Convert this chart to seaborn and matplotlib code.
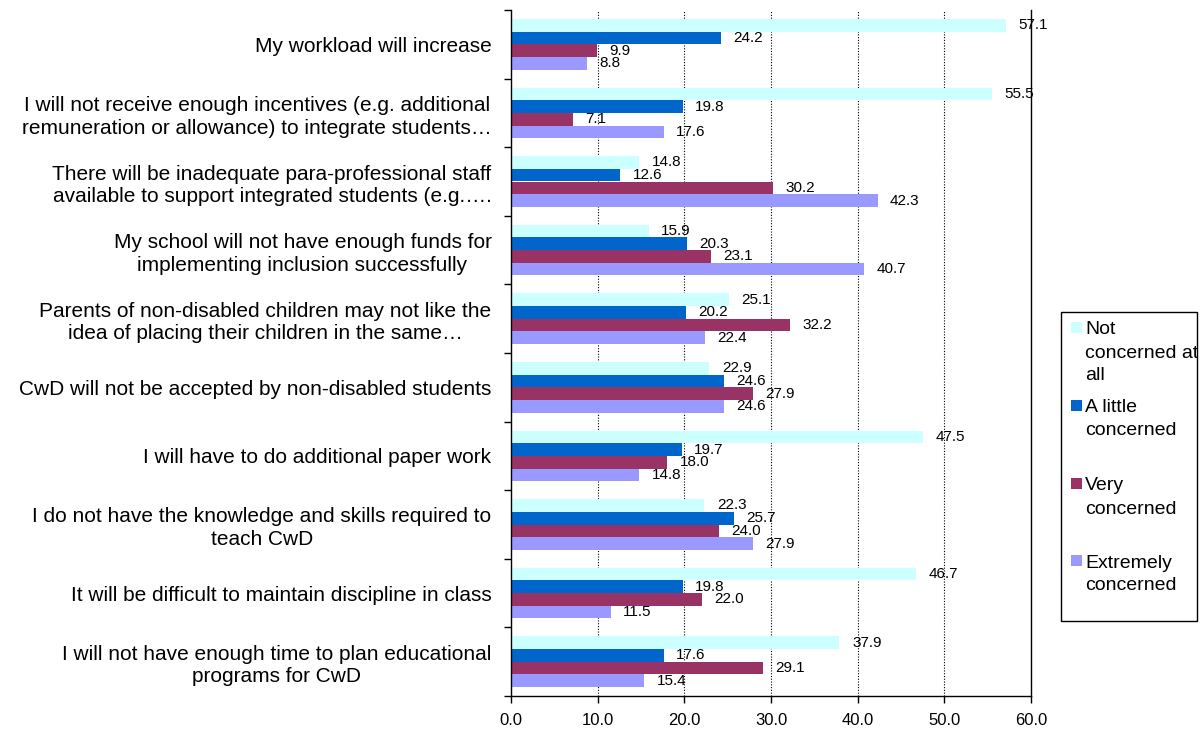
import matplotlib
matplotlib.use("Agg")
import matplotlib.pyplot as plt
import seaborn as sns
import pandas as pd
import numpy as np
from matplotlib.patches import Rectangle
from matplotlib.ticker import FixedLocator

categories = [
    "My workload will increase",
    "I will not receive enough incentives (e.g. additional\nremuneration or allowance) to integrate students…",
    "There will be inadequate para-professional staff\navailable to support integrated students (e.g.….",
    "My school will not have enough funds for\nimplementing inclusion successfully",
    "Parents of non-disabled children may not like the\nidea of placing their children in the same…",
    "CwD will not be accepted by non-disabled students",
    "I will have to do additional paper work",
    "I do not have the knowledge and skills required to\nteach CwD",
    "It will be difficult to maintain discipline in class",
    "I will not have enough time to plan educational\nprograms for CwD",
]
series = ["Not concerned at all", "A little concerned", "Very concerned", "Extremely concerned"]
legend_labels = ["Not\nconcerned at\nall", "A little\nconcerned", "Very\nconcerned", "Extremely\nconcerned"]
not_concerned = [57.1, 55.5, 14.8, 15.9, 25.1, 22.9, 47.5, 22.3, 46.7, 37.9]
a_little = [24.2, 19.8, 12.6, 20.3, 20.2, 24.6, 19.7, 25.7, 19.8, 17.6]
very = [9.9, 7.1, 30.2, 23.1, 32.2, 27.9, 18.0, 24.0, 22.0, 29.1]
extremely = [8.8, 17.6, 42.3, 40.7, 22.4, 24.6, 14.8, 27.9, 11.5, 15.4]
x_ticks = [0, 10, 20, 30, 40, 50, 60]
colors = ["#CCFFFF", "#0066CC", "#993366", "#9999FF"]

sns.set_theme(style="white")
plt.rcParams['font.family'] = ['Liberation Sans', 'DejaVu Sans']

rows = []
for s, vals in zip(series, [not_concerned, a_little, very, extremely]):
    for c, v in zip(categories, vals):
        rows.append({"category": c, "series": s, "value": v})
df = pd.DataFrame(rows)

W, H = 1203, 731
fig = plt.figure(figsize=(W / 100, H / 100), dpi=100)
fig.patch.set_facecolor("white")
ax = fig.add_axes([511 / W, 1 - 696 / H, 520 / W, 686 / H])

sns.barplot(data=df, y="category", x="value", hue="series", order=categories,
            hue_order=series, palette=colors, width=0.74, orient="h", ax=ax,
            legend=False, saturation=1, linewidth=0)

ax.set_xlim(0, 60)
ax.set_ylim(9.5, -0.5)
ax.set_xlabel("")
ax.set_ylabel("")
ax.set_xticks(x_ticks)
ax.set_xticklabels([f"{v:.1f}" for v in x_ticks])
ax.xaxis.grid(True, linestyle=(0, (1, 1.5)), color="black", linewidth=0.8)
ax.yaxis.grid(False)
ax.set_axisbelow(True)

for side in ["left", "bottom", "right"]:
    ax.spines[side].set_visible(True)
    ax.spines[side].set_color("black")
    ax.spines[side].set_linewidth(1)
ax.spines["top"].set_visible(False)

ax.tick_params(axis="x", which="major", bottom=True, direction="out", length=5,
               width=1, color="black", labelsize=12, pad=7, labelcolor="black")
ax.yaxis.set_minor_locator(FixedLocator(np.arange(-0.5, 10, 1)))
ax.tick_params(axis="y", which="minor", left=True, direction="out", length=5,
               width=1, color="black")
ax.tick_params(axis="y", which="major", left=False, length=0, pad=14,
               labelsize=15, labelcolor="black")
for lbl in ax.get_yticklabels():
    lbl.set_multialignment("center")
    lbl.set_linespacing(1.25)

for cont in ax.containers:
    ax.bar_label(cont, fmt="%.1f", padding=9, fontsize=11, color="black")

# Legend box
fig.patches.append(Rectangle((1061 / W, 1 - 621 / H), 136 / W, 309 / H,
                             transform=fig.transFigure, facecolor="white",
                             edgecolor="black", linewidth=1))
first_line_y = [330, 408, 486, 563]
for lab, col, y0 in zip(legend_labels, colors, first_line_y):
    fig.patches.append(Rectangle((1071 / W, 1 - (y0 + 3) / H), 11 / W, 11 / H,
                                 transform=fig.transFigure, facecolor=col,
                                 edgecolor="none"))
    for i, line in enumerate(lab.split("\n")):
        fig.text(1085 / W, 1 - (y0 + 23 * i) / H, line, fontsize=14,
                 va="center", ha="left", color="black")

fig.savefig("out.png", dpi=100, facecolor="white")
